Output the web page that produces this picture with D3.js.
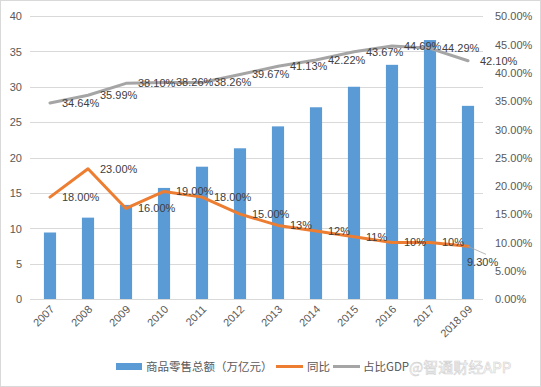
<!DOCTYPE html>
<html><head><meta charset="utf-8">
<script src="https://cdn.jsdelivr.net/npm/d3@7"></script>
<style>body{margin:0;background:#fff}svg{display:block}</style>
</head><body><div id="c"></div>
<script>
const categories = ["2007","2008","2009","2010","2011","2012","2013","2014","2015","2016","2017","2018.09"];
const retailSales = [9.4, 11.5, 13.3, 15.7, 18.7, 21.3, 24.4, 27.1, 30.0, 33.1, 36.6, 27.3];
const yoy = [18, 23, 16, 19, 18, 15, 13, 12, 11, 10, 10, 9.3];
const yoyLabels = ["18.00%","23.00%","16.00%","19.00%","18.00%","15.00%","13%","12%","11%","10%","10%","9.30%"];
const gdpShare = [34.64, 35.99, 38.10, 38.26, 38.26, 39.67, 41.13, 42.22, 43.67, 44.69, 44.29, 42.10];
const gdpLabels = ["34.64%","35.99%","38.10%","38.26%","38.26%","39.67%","41.13%","42.22%","43.67%","44.69%","44.29%","42.10%"];
const leftTicks = [0,5,10,15,20,25,30,35,40];
const rightTicks = [0,5,10,15,20,25,30,35,40,45,50];
const legendNames = ["商品零售总额（万亿元）","同比","占比GDP"];

const W = 541, H = 387;
const svg = d3.select("#c").append("svg").attr("width", W).attr("height", H);
svg.append("rect").attr("x",0.5).attr("y",0.5).attr("width",W-1).attr("height",H-1)
  .attr("fill","#fff").attr("stroke","#d9d9d9");

const numFont = "'Liberation Sans', Arial, sans-serif";
const cjkFont = "'Noto Sans CJK SC', sans-serif";
const txt = "#595959";

const x = d3.scaleBand().domain(categories).range([31, 487]).paddingInner(0.68).paddingOuter(0.34);
const yL = d3.scaleLinear().domain([0, 40]).range([299, 16]);
const yR = d3.scaleLinear().domain([0, 50]).range([299, 16]);
const cx = d => x(d) + x.bandwidth()/2;

// gridlines
svg.append("g").selectAll("line").data(leftTicks).join("line")
  .attr("x1", 30).attr("x2", 483)
  .attr("y1", d => Math.round(yL(d))+0.5).attr("y2", d => Math.round(yL(d))+0.5)
  .attr("stroke", "#d9d9d9").attr("stroke-width", 1);

// left axis
const axL = d3.axisLeft(yL).tickValues(leftTicks).tickSize(0).tickPadding(0);
const gL = svg.append("g").attr("transform","translate(22,0)").call(axL);
gL.select(".domain").remove();
gL.selectAll("text").attr("font-family", numFont).attr("font-size", 11).attr("fill", txt).attr("dy","0.35em");

// right axis
const axR = d3.axisRight(yR).tickValues(rightTicks).tickSize(0).tickPadding(0).tickFormat(d => d.toFixed(2)+"%");
const gR = svg.append("g").attr("transform","translate(495,0)").call(axR);
gR.select(".domain").remove();
gR.selectAll("text").attr("font-family", numFont).attr("font-size", 11).attr("fill", txt).attr("dy","0.35em");

// bars
svg.append("g").selectAll("rect").data(retailSales).join("rect")
  .attr("x", (d,i) => x(categories[i])).attr("width", x.bandwidth())
  .attr("y", d => yL(d)).attr("height", d => yL(0) - yL(d))
  .attr("fill", "#5b9bd5");

// x axis labels
const axX = d3.axisBottom(x).tickSize(0).tickPadding(0);
const gX = svg.append("g").attr("transform","translate(0,299)").call(axX);
gX.select(".domain").remove();
gX.selectAll("text").attr("font-family", numFont).attr("font-size", 11).attr("fill", txt)
  .attr("text-anchor","end").attr("dy", null).attr("y", 0)
  .attr("transform","translate(5,11) rotate(-45)");

// lines
const lineYoy = d3.line().x((d,i) => cx(categories[i])).y(d => yR(d));
svg.append("path").datum(yoy).attr("d", lineYoy).attr("fill","none")
  .attr("stroke","#ed7d31").attr("stroke-width",3).attr("stroke-linejoin","round").attr("stroke-linecap","round");
const lineGdp = d3.line().x((d,i) => cx(categories[i])).y(d => yR(d));
svg.append("path").datum(gdpShare).attr("d", lineGdp).attr("fill","none")
  .attr("stroke","#a5a5a5").attr("stroke-width",3).attr("stroke-linejoin","round").attr("stroke-linecap","round");

// labels
const lblFont = 11;
svg.append("g").selectAll("text").data(gdpShare).join("text")
  .attr("x", (d,i) => cx(categories[i]) + 12).attr("y", d => yR(d)).attr("dy","0.35em")
  .attr("font-family", numFont).attr("font-size", lblFont).attr("fill", "#404040")
  .text((d,i) => gdpLabels[i]);

const last = yoy.length - 1;
// leader line for last yoy label
svg.append("line").attr("x1", cx(categories[last])).attr("y1", yR(yoy[last]))
  .attr("x2", cx(categories[last]) + 18).attr("y2", yR(yoy[last]) + 8)
  .attr("stroke","#a5a5a5").attr("stroke-width",0.8);
svg.append("g").selectAll("text").data(yoy).join("text")
  .attr("x", (d,i) => i === last ? cx(categories[i]) - 1 : cx(categories[i]) + 12)
  .attr("y", (d,i) => i === last ? yR(d) + 16 : yR(d)).attr("dy","0.35em")
  .attr("font-family", numFont).attr("font-size", lblFont).attr("fill", "#404040")
  .text((d,i) => yoyLabels[i]);

// legend
const lg = svg.append("g").attr("font-family", cjkFont).attr("font-size", 11.5).attr("fill", txt);
lg.append("rect").attr("x",116).attr("y",363).attr("width",26).attr("height",7).attr("fill","#5b9bd5");
lg.append("text").attr("x",146).attr("y",367).attr("dy","0.35em").text(legendNames[0]);
lg.append("line").attr("x1",276).attr("x2",303).attr("y1",366.5).attr("y2",366.5).attr("stroke","#ed7d31").attr("stroke-width",3);
lg.append("text").attr("x",307).attr("y",367).attr("dy","0.35em").text(legendNames[1]);
lg.append("line").attr("x1",333).attr("x2",360).attr("y1",366.5).attr("y2",366.5).attr("stroke","#a5a5a5").attr("stroke-width",3);
lg.append("text").attr("x",363).attr("y",367).attr("dy","0.35em").text(legendNames[2]);

// watermark
svg.append("text").attr("x",409).attr("y",368).attr("dy","0.35em")
  .attr("font-family", cjkFont).attr("font-size",15).attr("fill","#fff")
  .attr("stroke","#d2d2d2").attr("stroke-width",0.6).text("@智通财经APP");
</script></body></html>
